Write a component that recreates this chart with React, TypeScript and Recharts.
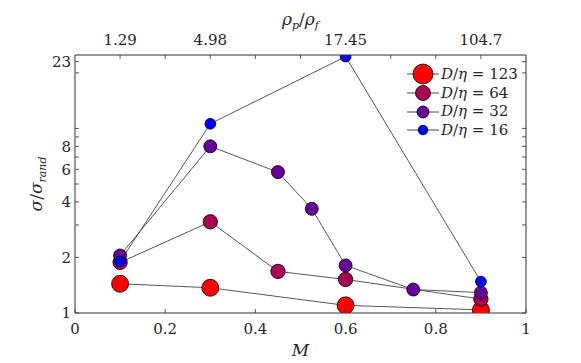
import { LineChart, Line, XAxis, YAxis, Legend, Label } from "recharts";

// M values and sigma/sigma_rand per D/eta
const M_123 = [0.1, 0.3, 0.6, 0.9];
const V_123 = [1.44, 1.37, 1.1, 1.04];
const M_64 = [0.1, 0.3, 0.45, 0.6, 0.9];
const V_64 = [1.88, 3.12, 1.68, 1.52, 1.19];
const M_32 = [0.1, 0.3, 0.45, 0.525, 0.6, 0.75, 0.9];
const V_32 = [2.05, 8.0, 5.8, 3.67, 1.81, 1.34, 1.29];
const M_16 = [0.1, 0.3, 0.6, 0.9];
const V_16 = [1.9, 10.6, 24.5, 1.48];

const X_TICKS = [0, 0.2, 0.4, 0.6, 0.8, 1];
const TOP_TICKS = [0.1, 0.2, 0.3, 0.4, 0.5, 0.6, 0.7, 0.8, 0.9];
const TOP_LABELS = ["1.29", "", "4.98", "", "", "17.45", "", "", "104.7"];
const Y_TICKS = [1, 2, 3, 4, 5, 6, 7, 8, 9, 10, 20, 23];
const Y_LABELED = [1, 2, 4, 6, 8, 23];

const series = [
  { name: "123", m: M_123, v: V_123, color: "#ff0000", r: 8.5, lr: 10 },
  { name: "64", m: M_64, v: V_64, color: "#aa0055", r: 7.2, lr: 7.5 },
  { name: "32", m: M_32, v: V_32, color: "#660099", r: 6.5, lr: 6 },
  { name: "16", m: M_16, v: V_16, color: "#0000ff", r: 5.4, lr: 4.8 },
];

const FONT = "DejaVu Serif, serif";
const INK = "#262626";
const AXIS = "#333";
const GAP = 6;
const TLEN = 4;
const FS = 15;

const LeftTick = ({ x, y, payload }: any) => {
  const ax = x + GAP;
  const show = Y_LABELED.includes(payload.value);
  return (
    <g>
      <line x1={ax} x2={ax + TLEN} y1={y} y2={y} stroke={AXIS} strokeWidth={0.8} />
      {show && (
        <text x={ax - 4} y={y} dy="0.35em" textAnchor="end" style={{ fontFamily: FONT }} fontSize={FS} fill={INK}>
          {payload.value}
        </text>
      )}
    </g>
  );
};

const RightTick = ({ x, y }: any) => {
  const ax = x - GAP;
  return <line x1={ax} x2={ax - TLEN} y1={y} y2={y} stroke={AXIS} strokeWidth={0.8} />;
};

const BottomTick = ({ x, y, payload }: any) => {
  const ay = y - GAP;
  return (
    <g>
      <line x1={x} x2={x} y1={ay} y2={ay - TLEN} stroke={AXIS} strokeWidth={0.8} />
      <text x={x} y={ay + 21} textAnchor="middle" style={{ fontFamily: FONT }} fontSize={FS} fill={INK}>
        {payload.value}
      </text>
    </g>
  );
};

const TopTick = ({ x, y, index, payload }: any) => {
  const ay = y + GAP;
  const i = TOP_TICKS.findIndex((t) => Math.abs(t - payload.value) < 1e-6);
  const label = TOP_LABELS[i >= 0 ? i : index] ?? "";
  return (
    <g>
      <line x1={x} x2={x} y1={ay} y2={ay + TLEN} stroke={AXIS} strokeWidth={0.8} />
      <text x={x} y={ay - 10} textAnchor="middle" style={{ fontFamily: FONT }} fontSize={FS} fill={INK}>
        {label}
      </text>
    </g>
  );
};

const LegendBox = () => (
  <div style={{ fontFamily: FONT, fontSize: FS, color: INK, lineHeight: 1 }}>
    {series.map((s) => (
      <div key={s.name} style={{ display: "flex", alignItems: "center", height: 18.7 }}>
        <svg width={34} height={20} style={{ overflow: "visible" }}>
          <line x1={1} x2={33} y1={10} y2={10} stroke={AXIS} strokeWidth={0.9} />
          <circle cx={17} cy={10} r={s.lr} fill={s.color} stroke="#000" strokeWidth={0.8} />
        </svg>
        <span style={{ marginLeft: 1, whiteSpace: "nowrap" }}>
          <i>D</i>/<i>η</i> = {s.name}
        </span>
      </div>
    ))}
  </div>
);

export default function App() {
  return (
    <div style={{ position: "absolute", left: 0, top: 0, background: "#fff" }}>
      <LineChart width={581} height={363} margin={{ top: 0, right: 0, bottom: 0, left: 0 }}>
        <XAxis
          xAxisId="bottom"
          dataKey="m"
          type="number"
          domain={[0, 1]}
          ticks={X_TICKS}
          interval={0}
          height={50}
          tickSize={0}
          tickMargin={GAP}
          tickLine={false}
          stroke={AXIS}
          tick={<BottomTick />}
        >
          <Label
            content={({ viewBox }: any) => (
              <text
                x={viewBox.x + viewBox.width / 2}
                y={viewBox.y + 43}
                textAnchor="middle"
                style={{ fontFamily: FONT }}
                fontStyle="italic"
                fontSize={17}
                fill={INK}
              >
                M
              </text>
            )}
          />
        </XAxis>
        <XAxis
          xAxisId="top"
          orientation="top"
          dataKey="m"
          type="number"
          domain={[0, 1]}
          allowDataOverflow
          ticks={TOP_TICKS}
          interval={0}
          height={55}
          tickSize={0}
          tickMargin={GAP}
          tickLine={false}
          stroke={AXIS}
          tick={<TopTick />}
        >
          <Label
            content={({ viewBox }: any) => (
              <text
                x={viewBox.x + viewBox.width / 2}
                y={25}
                textAnchor="middle"
                style={{ fontFamily: FONT }}
                fontStyle="italic"
                fontSize={17}
                fill={INK}
              >
                ρ<tspan fontSize={11} dy={4}>p</tspan>
                <tspan dy={-4} fontStyle="normal">/</tspan>ρ
                <tspan fontSize={11} dy={4}>f</tspan>
              </text>
            )}
          />
        </XAxis>
        <YAxis
          yAxisId="left"
          dataKey="v"
          type="number"
          scale="log"
          domain={[1, 25]}
          allowDataOverflow
          ticks={Y_TICKS}
          interval={0}
          width={75}
          tickSize={0}
          tickMargin={GAP}
          tickLine={false}
          stroke={AXIS}
          tick={<LeftTick />}
        >
          <Label
            content={({ viewBox }: any) => {
              const cx = 42;
              const cy = viewBox.y + viewBox.height / 2;
              return (
                <text
                  x={cx}
                  y={cy}
                  transform={`rotate(-90 ${cx} ${cy})`}
                  textAnchor="middle"
                  style={{ fontFamily: FONT }}
                  fontStyle="italic"
                  fontSize={17}
                  fill={INK}
                >
                  σ<tspan fontStyle="normal">/</tspan>σ
                  <tspan fontSize={11} dy={4}>rand</tspan>
                </text>
              );
            }}
          />
        </YAxis>
        <YAxis
          yAxisId="right"
          orientation="right"
          dataKey="v"
          type="number"
          scale="log"
          domain={[1, 25]}
          allowDataOverflow
          ticks={Y_TICKS}
          interval={0}
          width={55}
          tickSize={0}
          tickMargin={GAP}
          tickLine={false}
          stroke={AXIS}
          tick={<RightTick />}
        />
        <Legend
          content={<LegendBox />}
          layout="vertical"
          verticalAlign="middle"
          align="center"
          wrapperStyle={{ top: 65, left: 406, width: 125 }}
        />
        {series.map((s) => (
          <Line
            key={s.name}
            xAxisId="bottom"
            yAxisId="left"
            data={s.m.map((m, i) => ({ m, v: s.v[i] }))}
            dataKey="v"
            name={`D/η = ${s.name}`}
            stroke="#444"
            strokeWidth={0.9}
            dot={{ r: s.r, fill: s.color, stroke: "#000", strokeWidth: 0.8 }}
            activeDot={false}
            isAnimationActive={false}
          />
        ))}
      </LineChart>
    </div>
  );
}
